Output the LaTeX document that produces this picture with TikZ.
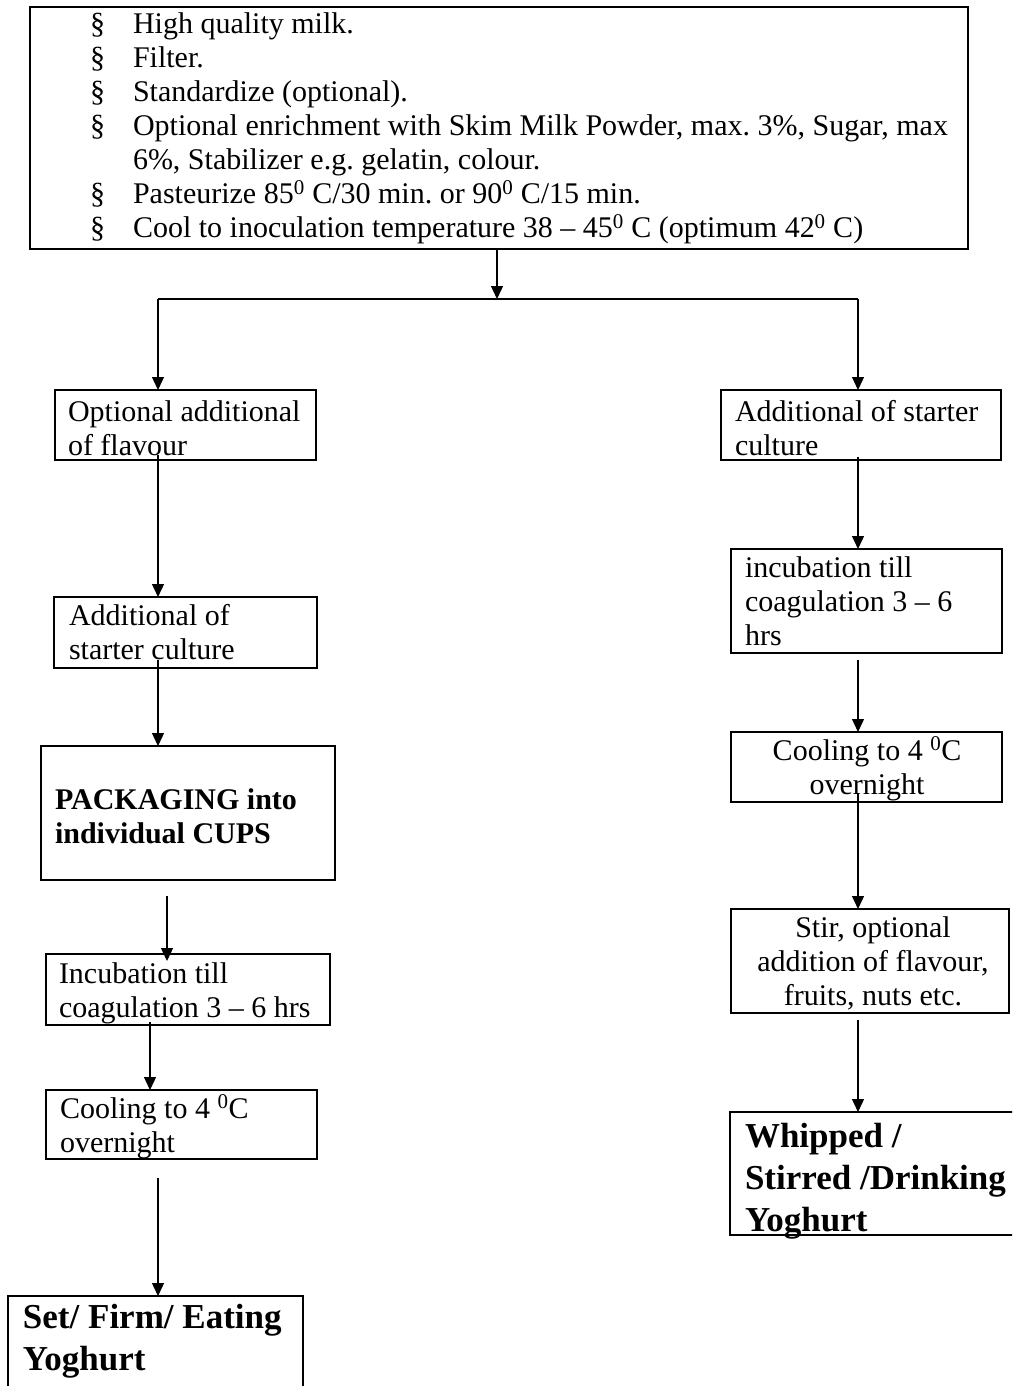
\documentclass[tikz,border=0pt]{standalone}
\usepackage{fontspec}
\setmainfont{Liberation Serif}
\usetikzlibrary{arrows.meta}
\frenchspacing
\newcommand{\mylinesL}[1]{\begin{tabular}[t]{@{}l@{}}#1\end{tabular}}
\newcommand{\mylinesC}[1]{\begin{tabular}[t]{@{}c@{}}#1\end{tabular}}
\tikzset{
  box/.style={draw, line width=2pt, inner sep=0pt, outer sep=0pt, anchor=north west},
  txt/.style={anchor=base west, inner sep=0pt, outer sep=0pt, font=\fontsize{30}{34}\selectfont},
  txtc/.style={anchor=base, inner sep=0pt, outer sep=0pt, font=\fontsize{30}{34}\selectfont},
  btxt/.style={anchor=base west, inner sep=0pt, outer sep=0pt, font=\fontsize{30}{34.5}\selectfont\bfseries},
  bigtxt/.style={anchor=base west, inner sep=0pt, outer sep=0pt, font=\fontsize{35}{42}\selectfont\bfseries},
  arr/.style={line width=1.3pt, -{Triangle[length=13pt,width=12pt]}},
  ln/.style={line width=1.3pt}
}
\begin{document}
\begin{tikzpicture}[x=1pt,y=-1pt]
\clip (0,0) rectangle (1012,1386);
\fill[white] (0,0) rectangle (1012,1386);

% boxes
\node[box, minimum width=938pt, minimum height=242pt] (top) at (30,7) {};
\node[box, minimum width=261pt, minimum height=70pt] (fl) at (55,390) {};
\node[box, minimum width=263pt, minimum height=71pt] (sc1) at (54,597) {};
\node[box, minimum width=294pt, minimum height=134pt] (pk) at (41,746) {};
\node[box, minimum width=284pt, minimum height=71pt] (inc1) at (46,954) {};
\node[box, minimum width=271pt, minimum height=69pt] (cool1) at (46,1090) {};
\node[box, minimum width=295pt, minimum height=130pt] (set) at (8,1296) {};
\node[box, minimum width=280pt, minimum height=70pt] (sc2) at (721,390) {};
\node[box, minimum width=271pt, minimum height=104pt] (inc2) at (731,549) {};
\node[box, minimum width=271pt, minimum height=70pt] (cool2) at (731,732) {};
\node[box, minimum width=278pt, minimum height=104pt] (stir) at (731,909) {};
\node[box, minimum width=300pt, minimum height=123pt] (whip) at (730,1112) {};

% texts
\node[txt] (bul) at (90,34) {\mylinesL{§\\§\\§\\§\\ \\§\\§}};
\node[txt] (toptext) at (133,34) {\mylinesL{High quality milk.\\Filter.\\Standardize (optional).\\Optional enrichment with Skim Milk Powder, max. 3\%, Sugar, max\\6\%, Stabilizer e.g. gelatin, colour.\\Pasteurize 85\textsuperscript{0} C/30 min. or 90\textsuperscript{0} C/15 min.\\Cool to inoculation temperature 38 – 45\textsuperscript{0} C (optimum 42\textsuperscript{0} C)}};
\node[txt] (flt) at (68,421) {\mylinesL{Optional additional\\of flavour}};
\node[txt] (sc1t) at (69,625) {\mylinesL{Additional of\\starter culture}};
\node[btxt] (pkt) at (55,809) {\mylinesL{PACKAGING into\\individual CUPS}};
\node[txt] (inc1t) at (59,983) {\mylinesL{Incubation till\\coagulation 3 – 6 hrs}};
\node[txt] (cool1t) at (60,1118) {\mylinesL{Cooling to 4 \textsuperscript{0}C\\overnight}};
\node[bigtxt] (sett) at (23,1328) {\mylinesL{Set/ Firm/ Eating\\Yoghurt}};
\node[txt] (sc2t) at (735,421) {\mylinesL{Additional of starter\\culture}};
\node[txt] (inc2t) at (745,577) {\mylinesL{incubation till\\coagulation 3 – 6\\hrs}};
\node[txtc] (cool2t) at (867,760) {\mylinesC{Cooling to 4 \textsuperscript{0}C\\overnight}};
\node[txtc] (stirt) at (873,937) {\mylinesC{Stir, optional\\addition of flavour,\\fruits, nuts etc.}};
\node[bigtxt] (whipt) at (745,1147) {\mylinesL{Whipped /\\Stirred /Drinking\\Yoghurt}};

% connectors
\coordinate (j) at (497,299);
\coordinate (hl) at (158,299);
\coordinate (hr) at (858,299);
\coordinate (th1) at (429,299);
\coordinate (th2) at (587,299);
\draw[arr] (j |- top.south) -- (j);
\draw[ln] (hl) -- (hr);
\draw[line width=2.4pt] (th1) -- (th2);
\draw[arr] (hl) -- (hl |- fl.north);
\draw[arr] (hr) -- (hr |- sc2.north);

\coordinate (a1) at (158,455);
\draw[arr] (a1) -- (a1 |- sc1.north);
\coordinate (a2) at (158,660);
\draw[arr] (a2) -- (a2 |- pk.north);
\coordinate (a3) at (167,896);
\coordinate (a3e) at (167,961);
\draw[arr] (a3) -- (a3e);
\coordinate (a4) at (150,1022);
\draw[arr] (a4) -- (a4 |- cool1.north);
\coordinate (a5) at (158,1178);
\draw[arr] (a5) -- (a5 |- set.north);

\coordinate (b1) at (858,457);
\draw[arr] (b1) -- (b1 |- inc2.north);
\coordinate (b2) at (858,660);
\draw[arr] (b2) -- (b2 |- cool2.north);
\coordinate (b3) at (858,793);
\draw[arr] (b3) -- (b3 |- stir.north);
\coordinate (b4) at (858,1020);
\draw[arr] (b4) -- (b4 |- whip.north);
\end{tikzpicture}
\end{document}
